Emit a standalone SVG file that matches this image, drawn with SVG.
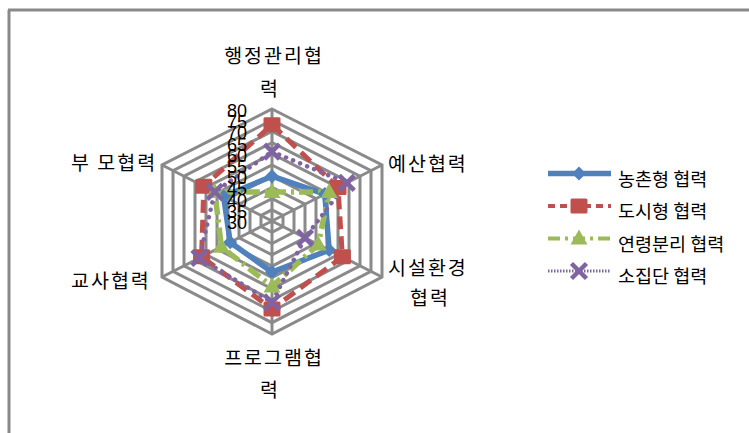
<svg xmlns="http://www.w3.org/2000/svg" width="749" height="433" viewBox="0 0 749 433">
<style>
.frame{stroke:#898989;stroke-width:3;fill:none}
.grid{stroke:#8A8A8A;stroke-width:3;fill:none}
.cat{font-family:"Noto Sans CJK KR","Noto Sans",sans-serif;font-size:19.5px;fill:#000;letter-spacing:2px}
.leg{font-family:"Noto Sans CJK KR","Noto Sans",sans-serif;font-size:18.5px;fill:#000}
.num{font-family:"Liberation Sans",Arial,sans-serif;font-size:18px;fill:#000;text-anchor:end}
.s1{stroke:#4F81BD;stroke-width:5.5;fill:none;stroke-linejoin:round}
.s2{stroke:#C0504D;stroke-width:5;fill:none;stroke-dasharray:13 7;stroke-linejoin:round}
.s3{stroke:#9BBB59;stroke-width:5.5;fill:none;stroke-dasharray:14 5 3 5;stroke-linejoin:round}
.s4{stroke:#8064A2;stroke-width:4.5;fill:none;stroke-dasharray:0.1 7.5;stroke-linecap:round;stroke-linejoin:round}
</style>
<defs>
<path id="mDia" d="M0,-7 L7,0 L0,7 L-7,0Z" fill="#4F81BD"/>
<rect id="mSq" x="-8.5" y="-7.5" width="17" height="15" rx="1.5" fill="#C0504D"/>
<path id="mTri" d="M0,-9 L8.5,6 L-8.5,6Z" fill="#9BBB59"/>
<path id="mX" d="M-7.5,-7.5 L7.5,7.5 M7.5,-7.5 L-7.5,7.5" stroke="#8064A2" stroke-width="4.5" fill="none"/>
</defs>

<path class="frame" d="M8,10 H749 M9,10 V433"/>

<g id="grid">
<polygon class="grid" points="272,109 382,165 382,277 272,334 162,277 162,165"/>
<polygon class="grid" points="272,120.2 371,170.6 371,271.4 272,322.7 173,271.4 173,170.6"/>
<polygon class="grid" points="272,131.4 360,176.2 360,265.8 272,311.4 184,265.8 184,176.2"/>
<polygon class="grid" points="272,142.6 349,181.8 349,260.2 272,300.1 195,260.2 195,181.8"/>
<polygon class="grid" points="272,153.8 338,187.4 338,254.6 272,288.8 206,254.6 206,187.4"/>
<polygon class="grid" points="272,165 327,193 327,249 272,277.5 217,249 217,193"/>
<polygon class="grid" points="272,176.2 316,198.6 316,243.4 272,266.2 228,243.4 228,198.6"/>
<polygon class="grid" points="272,187.4 305,204.2 305,237.8 272,254.9 239,237.8 239,204.2"/>
<polygon class="grid" points="272,198.6 294,209.8 294,232.2 272,243.6 250,232.2 250,209.8"/>
<polygon class="grid" points="272,209.8 283,215.4 283,226.6 272,232.3 261,226.6 261,215.4"/>
<path class="grid" d="M272,221 L272,109 M272,221 L382,165 M272,221 L382,277 M272,221 L272,334 M272,221 L162,277 M272,221 L162,165"/>
</g>

<g id="connectors">
<polygon class="s1" points="272,176.2 324.8,194.1 329.2,250.1 272,272.1 230.2,242.3 223.6,196.4"/>
<polygon class="s2" points="272,124.7 338,187.4 342.4,256.8 272,309.1 201.6,256.8 203.8,186.3"/>
<polygon class="s3" points="272,191.9 329.2,191.9 318.2,244.5 272,286.5 221.4,246.8 214.8,191.9"/>
<polygon class="s4" points="272,151.6 346.8,182.9 305,237.8 272,302.4 199.4,258 214.8,191.9"/>
</g>

<g id="series-rural">
<use href="#mDia" x="272" y="176.2"/><use href="#mDia" x="324.8" y="194.1"/><use href="#mDia" x="329.2" y="250.1"/>
<use href="#mDia" x="272" y="272.1"/><use href="#mDia" x="230.2" y="242.3"/><use href="#mDia" x="223.6" y="196.4"/>
</g>
<g id="series-urban">
<use href="#mSq" x="272" y="124.7"/><use href="#mSq" x="338" y="187.4"/><use href="#mSq" x="342.4" y="256.8"/>
<use href="#mSq" x="272" y="309.1"/><use href="#mSq" x="201.6" y="256.8"/><use href="#mSq" x="203.8" y="186.3"/>
</g>
<g id="series-age">
<use href="#mTri" x="272" y="191.9"/><use href="#mTri" x="329.2" y="191.9"/><use href="#mTri" x="318.2" y="244.5"/>
<use href="#mTri" x="272" y="286.5"/><use href="#mTri" x="221.4" y="246.8"/><use href="#mTri" x="214.8" y="191.9"/>
</g>
<g id="series-small">
<use href="#mX" x="272" y="151.6"/><use href="#mX" x="346.8" y="182.9"/><use href="#mX" x="305" y="237.8"/>
<use href="#mX" x="272" y="302.4"/><use href="#mX" x="199.4" y="258"/><use href="#mX" x="214.8" y="191.9"/>
</g>

<g id="axis-values">
<text class="num" x="247" y="117">80</text>
<text class="num" x="247" y="128.2">75</text>
<text class="num" x="247" y="139.4">70</text>
<text class="num" x="247" y="150.6">65</text>
<text class="num" x="247" y="161.8">60</text>
<text class="num" x="247" y="173">55</text>
<text class="num" x="247" y="184.2">50</text>
<text class="num" x="247" y="195.4">45</text>
<text class="num" x="247" y="206.6">40</text>
<text class="num" x="247" y="217.8">35</text>
<text class="num" x="247" y="229">30</text>
</g>

<g id="cat-admin"><text class="cat" x="274" y="63" text-anchor="middle">행정관리협</text><text class="cat" x="270" y="96" text-anchor="middle">력</text></g>
<g id="cat-budget"><text class="cat" x="388" y="171">예산협력</text></g>
<g id="cat-facility"><text class="cat" x="388" y="275">시설환경</text><text class="cat" x="410" y="305">협력</text></g>
<g id="cat-program"><text class="cat" x="274" y="365" text-anchor="middle">프로그램협</text><text class="cat" x="270" y="397" text-anchor="middle">력</text></g>
<g id="cat-teacher"><text class="cat" x="71" y="288">교사협력</text></g>
<g id="cat-parent"><text class="cat" x="71" y="170">부 모협력</text></g>

<g id="legend">
<g id="leg-rural"><path class="s1" d="M548,173.5 H611" stroke-width="3.5"/><use href="#mDia" x="579" y="173.5"/><text class="leg" x="618" y="185.5">농촌형 협력</text></g>
<g id="leg-urban"><path d="M548,206 H611" stroke="#C0504D" stroke-width="4" stroke-dasharray="7 5" fill="none"/><use href="#mSq" x="579" y="206"/><text class="leg" x="618" y="218">도시형 협력</text></g>
<g id="leg-age"><path d="M548,238.5 H611" stroke="#9BBB59" stroke-width="4" stroke-dasharray="12 5 3 5" fill="none"/><use href="#mTri" x="579" y="238.5"/><text class="leg" x="618" y="250.5">연령분리 협력</text></g>
<g id="leg-small"><path d="M548,271 H611" stroke="#8064A2" stroke-width="3" stroke-dasharray="1.5 1.5" fill="none"/><use href="#mX" x="579" y="271"/><text class="leg" x="618" y="283">소집단 협력</text></g>
</g>
</svg>
